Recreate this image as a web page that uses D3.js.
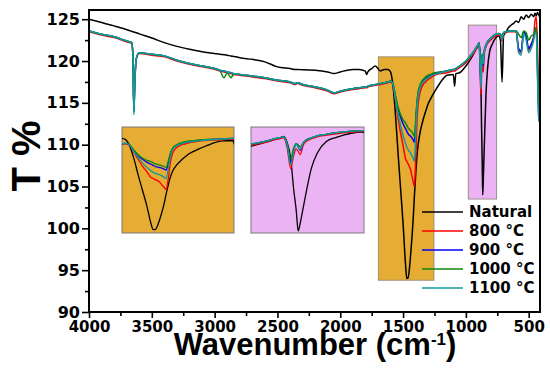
<!DOCTYPE html>
<html>
<head>
<meta charset="utf-8">
<script src="https://cdn.jsdelivr.net/npm/d3@7"></script>
<style>
  body { margin: 0; background: #fff; }
  svg text { font-family: "DejaVu Sans", sans-serif; font-weight: bold; fill: #000; }
</style>
</head>
<body>
<svg id="chart" width="550" height="371"></svg>
<script>
// FTIR spectra, transmittance (%) vs wavenumber (cm-1)
const wavenumbers = [
  4000, 3900, 3800, 3720, 3680, 3660, 3650, 3643, 3636, 3625,
  3600, 3500, 3400, 3300, 3200, 3100, 3000, 2960, 2925, 2900,
  2870, 2850, 2830, 2800, 2700, 2600, 2500, 2400, 2360, 2340,
  2300, 2200, 2100, 2050, 2000, 1900, 1850, 1800, 1790, 1780,
  1750, 1720, 1700, 1680, 1650, 1620, 1600, 1580, 1560, 1540,
  1520, 1500, 1480, 1470, 1460, 1440, 1420, 1410, 1400, 1390,
  1380, 1360, 1340, 1320, 1300, 1280, 1250, 1200, 1150, 1100,
  1090, 1080, 1050, 1000, 960, 930, 910, 900, 895, 888,
  881, 875, 870, 866, 862, 856, 850, 840, 828, 810,
  790, 760, 740, 725, 712, 700, 680, 660, 640, 620,
  600, 580, 560, 540, 520, 500, 480, 460, 450, 440,
  430, 420, 410
];

const natural = [
  125.0, 124.6, 124.2, 123.85, 123.65, 123.55, 123.5, 123.47, 123.44, 123.38,
  123.25, 122.75, 122.2, 121.75, 121.4, 121.1, 120.9, 120.8, 120.75, 120.7,
  120.6, 120.55, 120.5, 120.4, 120.2, 119.9, 119.3, 119.1, 119.0, 119.0,
  118.95, 118.9, 118.7, 118.5, 118.7, 119.0, 119.0, 118.8, 118.4, 118.7,
  119.1, 119.4, 119.1, 118.8, 119.0, 119.0, 118.7, 117.0, 113.5, 109.0,
  104.8, 100.6, 95.6, 94.0, 94.1, 96.8, 101.0, 103.8, 106.3, 108.5,
  110.0, 111.8, 113.0, 114.0, 114.9, 115.5, 116.3, 117.5, 118.3, 118.4,
  117.0, 118.5, 118.6, 119.4, 120.3, 121.1, 121.7, 122.0, 122.2, 121.0,
  118.0, 112.0, 108.0, 104.0, 105.5, 108.5, 111.5, 116.0, 119.0, 121.2,
  122.0, 122.8, 123.0, 122.5, 117.5, 123.0, 123.5, 124.0, 124.3, 124.5,
  124.8, 124.6, 125.3, 125.0, 125.5, 125.2, 125.6, 125.3, 125.7, 125.4,
  125.8, 125.5, 125.2
];

const t800 = [
  123.5, 123.1, 122.8, 122.4, 122.2, 122.1, 120.6, 114.3, 117.3, 120.2,
  120.9, 120.7, 120.5, 120.0, 119.6, 119.3, 119.0, 118.8, 118.7, 118.6,
  118.5, 118.4, 118.35, 118.3, 118.1, 117.9, 117.6, 117.4, 117.2, 117.3,
  117.1, 116.8, 116.4, 116.1, 116.3, 116.6, 116.7, 116.8, 116.8, 116.9,
  117.0, 117.1, 117.15, 117.2, 117.3, 117.4, 117.5, 117.1, 115.2, 113.2,
  111.4, 109.9, 108.3, 108.0, 107.7, 107.0, 105.6, 105.0, 108.0, 112.5,
  114.9, 116.5, 117.2, 117.5, 117.8, 118.0, 118.3, 118.5, 118.6, 118.8,
  118.8, 118.9, 119.2, 119.8, 120.5, 121.1, 121.6, 121.8, 121.9, 120.0,
  116.0, 118.5, 119.8, 119.3, 118.7, 120.5, 121.2, 121.7, 122.1, 122.4,
  122.7, 123.0, 123.1, 123.0, 122.4, 123.3, 123.4, 123.5, 123.5, 123.5,
  123.5, 121.3, 121.0, 123.5, 122.8, 121.3, 122.0, 123.0, 124.8, 125.3,
  122.0, 115.0, 113.0
];

const t900 = [
  123.6, 123.2, 122.9, 122.5, 122.3, 122.2, 120.5, 114.0, 117.1, 120.2,
  121.0, 120.8, 120.6, 120.1, 119.7, 119.4, 119.1, 118.9, 118.8, 118.7,
  118.6, 118.5, 118.45, 118.4, 118.2, 118.0, 117.7, 117.5, 117.3, 117.4,
  117.2, 116.9, 116.5, 116.2, 116.4, 116.7, 116.8, 116.9, 116.9, 117.0,
  117.1, 117.2, 117.25, 117.3, 117.4, 117.5, 117.6, 117.2, 115.7, 114.3,
  113.3, 112.5, 111.9, 111.6, 111.3, 111.0, 110.6, 110.3, 112.3, 114.7,
  116.1, 117.1, 117.6, 117.9, 118.1, 118.3, 118.5, 118.7, 118.8, 119.0,
  119.0, 119.1, 119.4, 120.0, 120.7, 121.3, 121.8, 122.0, 122.1, 120.6,
  117.2, 119.6, 120.8, 120.2, 119.5, 120.9, 121.5, 121.9, 122.3, 122.6,
  122.9, 123.2, 123.3, 123.2, 122.8, 123.4, 123.5, 123.6, 123.6, 123.6,
  123.6, 121.5, 121.2, 123.5, 123.0, 121.5, 122.0, 122.8, 123.6, 124.0,
  119.0, 113.5, 112.6
];

const t1000 = [
  123.6, 123.2, 122.9, 122.5, 122.3, 122.2, 120.6, 113.9, 117.1, 120.2,
  121.0, 120.8, 120.6, 120.1, 119.7, 119.4, 119.1, 118.9, 118.0, 118.6,
  118.0, 118.4, 118.45, 118.4, 118.2, 118.0, 117.7, 117.5, 117.3, 117.4,
  117.2, 116.9, 116.5, 116.2, 116.4, 116.7, 116.8, 116.9, 116.9, 117.0,
  117.1, 117.2, 117.25, 117.3, 117.4, 117.5, 117.6, 117.3, 115.8, 114.5,
  113.6, 113.0, 112.6, 112.3, 112.0, 111.7, 111.3, 111.0, 112.8, 115.0,
  116.3, 117.3, 117.8, 118.1, 118.3, 118.4, 118.6, 118.7, 118.8, 119.0,
  119.0, 119.1, 119.4, 120.0, 120.7, 121.3, 121.8, 122.0, 122.1, 120.8,
  117.9, 120.0, 120.8, 120.6, 120.2, 121.0, 121.5, 121.9, 122.3, 122.6,
  122.9, 123.2, 123.3, 123.2, 122.9, 123.4, 123.5, 123.6, 123.6, 123.6,
  123.6, 123.2, 122.8, 123.6, 123.4, 122.5, 123.0, 123.2, 123.6, 124.0,
  120.0, 114.5, 112.8
];

const t1100 = [
  123.6, 123.2, 122.9, 122.5, 122.3, 122.2, 120.4, 113.6, 117.0, 120.2,
  121.0, 120.8, 120.6, 120.1, 119.7, 119.4, 119.1, 118.9, 118.8, 118.7,
  118.6, 118.5, 118.45, 118.4, 118.2, 118.0, 117.7, 117.5, 117.3, 117.4,
  117.2, 116.9, 116.5, 116.2, 116.4, 116.7, 116.8, 116.9, 116.9, 117.0,
  117.1, 117.2, 117.25, 117.3, 117.4, 117.5, 117.6, 117.2, 115.4, 113.7,
  112.3, 111.1, 110.1, 109.7, 109.4, 109.0, 108.4, 108.0, 110.8, 114.0,
  115.8, 117.0, 117.5, 117.8, 118.0, 118.2, 118.4, 118.6, 118.8, 119.0,
  119.0, 119.1, 119.4, 120.0, 120.7, 121.3, 121.8, 122.0, 122.1, 120.5,
  116.7, 119.2, 120.7, 120.1, 119.7, 120.9, 121.4, 121.9, 122.3, 122.6,
  122.9, 123.2, 123.3, 123.2, 122.5, 123.4, 123.5, 123.6, 123.6, 123.6,
  123.6, 121.0, 120.7, 123.3, 122.5, 121.0, 121.5, 122.5, 123.3, 123.3,
  118.0, 113.0, 112.6
];

const seriesNames = ['Natural', '800 °C', '900 °C', '1000 °C', '1100 °C'];
const xTicks = [4000, 3500, 3000, 2500, 2000, 1500, 1000, 500];
const xMinorTicks = [3750, 3250, 2750, 2250, 1750, 1250, 750];
const yTicks = [90, 95, 100, 105, 110, 115, 120, 125];
const yMinorTicks = [92.5, 97.5, 102.5, 107.5, 112.5, 117.5, 122.5];

// highlighted bands [wn from, wn to, T low, T high]
const bandCarbonate = [1697, 1254, 93.8, 120.5];
const bandOutOfPlane = [981, 755, 103.5, 124.3];
// zoom windows shown in the insets [wn from, wn to, T low, T high]
const zoomCarbonate = [1615, 1095, 93.1, 122.1];
const zoomOutOfPlane = [960, 735, 103.6, 124.0];

const colors = ['#000000', '#ff0000', '#0000ff', '#0a8a0a', '#139a9a'];
const orange = '#e5ad34';
const pink = '#ecb3f4';

const series = [natural, t800, t900, t1000, t1100].map((values, i) => ({
  name: seriesNames[i], values, color: colors[i]
}));

const svg = d3.select('#chart');
const margin = { top: 10, right: 10, bottom: 59, left: 89 };
const width = 550 - margin.left - margin.right;
const height = 371 - margin.top - margin.bottom;

const g = svg.append('g').attr('transform', `translate(${margin.left},${margin.top})`);

const x = d3.scaleLinear().domain([4000, 410]).range([0, width]);
const y = d3.scaleLinear().domain([90, 126.1]).range([height, 0]);

svg.append('defs').append('clipPath').attr('id', 'plot-clip')
  .append('rect').attr('width', width).attr('height', height);

// highlighted bands
[[bandCarbonate, orange], [bandOutOfPlane, pink]].forEach(([b, fill]) => {
  g.append('rect')
    .attr('x', x(b[0]))
    .attr('y', y(b[3]))
    .attr('width', x(b[1]) - x(b[0]))
    .attr('height', y(b[2]) - y(b[3]))
    .attr('fill', fill)
    .attr('stroke', '#8c8070')
    .attr('stroke-width', 0.8);
});

const plot = g.append('g').attr('clip-path', 'url(#plot-clip)');
const line = d3.line()
  .x((d, i) => x(wavenumbers[i]))
  .y(d => y(d))
  .curve(d3.curveMonotoneX);

series.forEach(s => {
  plot.append('path')
    .attr('d', line(s.values))
    .attr('fill', 'none')
    .attr('stroke', s.color)
    .attr('stroke-width', 1.5);
});

// insets
function drawInset(id, left, top, w, h, zoom, fill) {
  const ix = d3.scaleLinear().domain([zoom[0], zoom[1]]).range([0, w]);
  const iy = d3.scaleLinear().domain([zoom[2], zoom[3]]).range([h, 0]);
  const ig = svg.append('g').attr('transform', `translate(${left},${top})`);
  svg.select('defs').append('clipPath').attr('id', id)
    .append('rect').attr('width', w).attr('height', h);
  ig.append('rect').attr('width', w).attr('height', h)
    .attr('fill', fill).attr('stroke', '#7a7a7a').attr('stroke-width', 1);
  const inner = ig.append('g').attr('clip-path', `url(#${id})`);
  const iline = d3.line()
    .x((d, i) => ix(wavenumbers[i]))
    .y(d => iy(d))
    .curve(d3.curveMonotoneX);
  series.forEach(s => {
    inner.append('path')
      .attr('d', iline(s.values))
      .attr('fill', 'none')
      .attr('stroke', s.color)
      .attr('stroke-width', 1.3);
  });
}
drawInset('inset-a', 122, 127, 112, 106, zoomCarbonate, orange);
drawInset('inset-b', 251, 127, 113, 106, zoomOutOfPlane, pink);

// axes
const xAxis = g.append('g')
  .attr('transform', `translate(0,${height})`)
  .call(d3.axisBottom(x).tickValues(xTicks).tickSize(6).tickSizeOuter(0).tickPadding(3).tickFormat(d3.format('d')));
xAxis.select('.domain').remove();
xAxis.selectAll('text').style('font-size', '15px');

g.append('g')
  .attr('transform', `translate(0,${height})`)
  .call(d3.axisBottom(x).tickValues(xMinorTicks).tickSize(4).tickFormat(''))
  .select('.domain').remove();

const yAxis = g.append('g')
  .call(d3.axisLeft(y).tickValues(yTicks).tickSize(7).tickSizeOuter(0).tickPadding(2));
yAxis.select('.domain').remove();
yAxis.selectAll('text').style('font-size', '16px');

g.append('g')
  .call(d3.axisLeft(y).tickValues(yMinorTicks).tickSize(4).tickFormat(''))
  .select('.domain').remove();

g.selectAll('.tick line').attr('stroke', '#000').attr('stroke-width', 1.6);

g.append('rect')
  .attr('width', width)
  .attr('height', height)
  .attr('fill', 'none')
  .attr('stroke', '#000')
  .attr('stroke-width', 2);

// legend
const legend = svg.append('g').attr('transform', 'translate(422,212)');
series.forEach((s, i) => {
  const row = legend.append('g').attr('transform', `translate(0,${i * 19})`);
  row.append('line')
    .attr('x1', 0).attr('x2', 41)
    .attr('stroke', s.color).attr('stroke-width', 1.5);
  row.append('text')
    .attr('x', 47).attr('dy', '0.36em')
    .style('font-size', '15px')
    .text(s.name);
});

// axis titles
svg.append('text')
  .attr('transform', 'translate(40,156) rotate(-90)')
  .attr('text-anchor', 'middle')
  .style('font-family', '"Liberation Sans", Arial, sans-serif')
  .style('font-size', '40px')
  .text('T %');

const xTitle = svg.append('text')
  .attr('x', 315)
  .attr('y', 355)
  .attr('text-anchor', 'middle')
  .style('font-family', '"Liberation Sans", Arial, sans-serif')
  .style('font-size', '31px');
xTitle.append('tspan').text('Wavenumber (cm');
xTitle.append('tspan').attr('dy', -10).style('font-size', '17px').text('-1');
xTitle.append('tspan').attr('dy', 10).text(')');
</script>
</body>
</html>
